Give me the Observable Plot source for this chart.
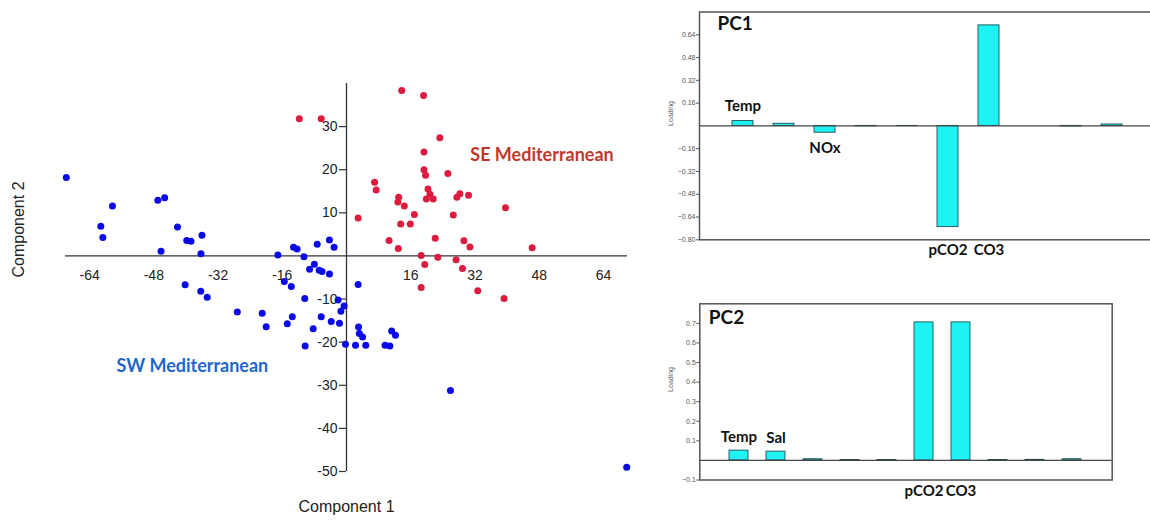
<!DOCTYPE html>
<html><head><meta charset="utf-8">
<script src="https://cdn.jsdelivr.net/npm/d3@7"></script>
<script src="https://cdn.jsdelivr.net/npm/@observablehq/plot@0.6"></script>
<style>
html,body{margin:0;padding:0;background:#fff}
body{width:1150px;height:522px;overflow:hidden;position:relative;font-family:"Liberation Sans",Arial,sans-serif}
.panel{position:absolute;overflow:hidden}
.panel svg{max-width:none !important;display:block}
</style></head><body>
<div id="scatter" class="panel" style="left:0;top:0;width:650px;height:522px"></div>
<div id="pc1" class="panel" style="left:660px;top:0;width:490px;height:290px"></div>
<div id="pc2" class="panel" style="left:660px;top:290px;width:490px;height:232px"></div>
<script>
// ---- Scatter: PCA scores ----
const swC1 = [-69.8,-58.3,-61.2,-60.7,-47,-45.3,-46.2,-42.1,-39.8,-38.75,-36,-36.25,-40.2,-36.3,-34.7,-27.2,-21,-20,-17.1,-15.5,-13.75,-13.2,-12.3,-10.6,-13.5,-14.75,-10.4,-10.3,-9.2,-8,-7.3,-6.8,-6.1,-8.3,-6.3,-4.25,-3.1,-4.25,-3.8,-2.1,-1.75,-1.4,-0.6,-0.25,2.9,3,3.2,4,2.25,4.8,9.6,10.8,11.25,12.2,25.9,69.8];
const swC2 = [18.2,11.6,6.9,4.3,12.9,13.5,1.1,6.7,3.6,3.4,4.8,0.5,-6.7,-8.2,-9.6,-13,-13.3,-16.4,0.2,-5.9,-7.1,2,1.6,-0.2,-14.1,-15.7,-9.9,-20.9,-3.1,-1.9,2.7,-3.3,-3.6,-16.9,-14.1,3.7,2,-4.2,-15.2,-10.2,-15.6,-12.8,-11.6,-20.5,-6.6,-16.5,-18,-18.8,-20.7,-20.7,-20.7,-20.9,-17.4,-18.4,-31.2,-49];
const seC1 = [-11.75,-6.3,13.75,19.2,23.25,19.3,19.3,19.7,25.25,7,7.4,20.3,20.8,19.9,21.6,13,12.8,14.4,27.5,28.25,30.4,39.6,2.9,16.9,26.6,13.5,15.9,10.6,22.1,29.25,12.9,30.75,46.25,18.6,22.75,19.5,27.3,28.9,18.6,32.7,39.25];
const seC2 = [31.8,31.8,38.4,37.2,27.4,24.1,20,18.7,19.1,17.1,15.3,15.5,14.3,13.2,13.2,13.6,12.5,11.6,13.6,14.4,14.1,11.2,8.8,9.6,9.5,7.4,7.4,3.6,4.1,3.5,1.7,2.1,1.9,0.1,-0.3,-2,-0.9,-2.9,-7.3,-8.1,-9.9];
const xTicks = [-64,-48,-32,-16,16,32,48,64];
const yTicks = [30,20,10,-10,-20,-30,-40,-50];
const groupLabels = [
  {name:"SE Mediterranean", c1:48.7, c2:23.4, color:"#c0392b"},
  {name:"SW Mediterranean", c1:-38.4, c2:-25.5, color:"#1f66cc"}
];

// ---- Loadings ----
const vars = ["Temp","Sal","NOx","v4","v5","pCO2","CO3","v8","v9","v10"];
const pc1 = [0.034,0.015,-0.048,-0.003,-0.002,-0.711,0.706,0.0,-0.004,0.01];
const pc2 = [0.05,0.045,0.006,0.002,0.002,0.705,0.705,0.002,0.003,0.006];
const pc1Ticks = [0.64,0.48,0.32,0.16,-0.16,-0.32,-0.48,-0.64,-0.80];
const pc2Ticks = [0.7,0.6,0.5,0.4,0.3,0.2,0.1,-0.1];
const pc1Above = ["Temp"], pc1Below = ["NOx"], pc1Under = ["pCO2","CO3"];
const pc2Above = ["Temp","Sal"], pc2Under = ["pCO2","CO3"];

const sw = swC1.map((c1,i)=>({c1, c2: swC2[i]}));
const se = seC1.map((c1,i)=>({c1, c2: seC2[i]}));

const scatter = Plot.plot({
  width: 650, height: 522,
  marginLeft: 65, marginRight: 23, marginTop: 83, marginBottom: 51,
  x: {domain: [-70, 70], axis: null},
  y: {domain: [-50, 40], axis: null},
  style: {fontFamily: "Liberation Sans, Arial, sans-serif", color: "#222", background: "#fff"},
  marks: [
    Plot.ruleY([0], {stroke: "#333", strokeWidth: 1.3}),
    Plot.ruleX([0], {stroke: "#333", strokeWidth: 1.3}),
    Plot.ruleY(yTicks, {y: d => d, x1: 0, x2: 0, insetLeft: -7, stroke: "#333", strokeWidth: 1.2}),
    Plot.text(xTicks, {x: d => d, y: 0, dy: 20, text: d => String(d), fontSize: 14, fill: "#222"}),
    Plot.text(yTicks, {x: 0, y: d => d, dx: -9, textAnchor: "end", text: d => String(d), fontSize: 14, fill: "#222"}),
    Plot.text(["Component 2"], {frameAnchor: "left", dx: -47, rotate: -90, fontSize: 16, fill: "#222"}),
    Plot.text(["Component 1"], {frameAnchor: "bottom", dy: 40, fontSize: 16, fill: "#222"}),
    Plot.dot(sw, {x: "c1", y: "c2", r: 3.5, fill: "#0a0ae8", stroke: "none"}),
    Plot.dot(se, {x: "c1", y: "c2", r: 3.5, fill: "#dc1c3e", stroke: "none"}),
    Plot.text(groupLabels, {x: "c1", y: "c2", text: "name", fill: d => d.color, fontSize: 18, fontWeight: "bold", fontFamily: "Lato, sans-serif"})
  ]
});
document.getElementById("scatter").appendChild(scatter);

function loadingChart(values, opts) {
  const data = vars.map((v,i)=>({v, val: values[i]}));
  const pick = names => data.filter(d => names.includes(d.v));
  return Plot.plot({
    width: opts.width, height: opts.height,
    marginLeft: opts.ml, marginRight: opts.mr, marginTop: opts.mt, marginBottom: opts.mb,
    x: {type: "band", domain: vars, range: opts.xRange, paddingInner: 0.5, paddingOuter: 0.5, axis: null},
    y: {domain: opts.yDomain, ticks: opts.ticks, tickFormat: opts.fmt, tickSize: 3, tickPadding: 1, label: null},
    style: {fontFamily: "Liberation Sans, Arial, sans-serif", fontSize: "7px", color: "#555", background: "#fff"},
    marks: [
      Plot.barY(data, {x: "v", y: "val", fill: "#1ef2f2", stroke: "#1d4f55", strokeWidth: 0.9}),
      Plot.ruleY([0], {stroke: "#444", strokeWidth: 1.3}),
      Plot.frame({stroke: "#555", strokeWidth: 1.5}),
      Plot.text(["Loading"], {frameAnchor: "left", dx: -29, rotate: -90, fontSize: 7, fill: "#666"}),
      Plot.text([opts.title], {frameAnchor: "top-left", dx: opts.titleDx, dy: opts.titleDy, lineAnchor: "top", textAnchor: "start", fontSize: 19, fontWeight: "bold", fontFamily: "Lato, sans-serif", fill: "#111"}),
      Plot.text(pick(opts.above), {x: "v", y: "val", dy: opts.aboveDy, text: "v", fontSize: 15, fontWeight: "bold", fontFamily: "Lato, sans-serif", fill: "#111"}),
      Plot.text(pick(opts.below), {x: "v", y: "val", dy: 15, text: "v", fontSize: 15, fontWeight: "bold", fontFamily: "Lato, sans-serif", fill: "#111"}),
      Plot.text(pick(opts.under), {x: "v", frameAnchor: "bottom", dy: opts.underDy, text: "v", fontSize: 15, fontWeight: "bold", fontFamily: "Lato, sans-serif", fill: "#111"})
    ]
  });
}

document.getElementById("pc1").appendChild(loadingChart(pc1, {
  width: 520, height: 290, ml: 39, mr: 5, mt: 11.5, mb: 50.7,
  xRange: [49.3, 484.8], yDomain: [-0.8, 0.8], ticks: pc1Ticks, fmt: d3.format(".2f"),
  title: "PC1", titleDx: 18, titleDy: 4, above: pc1Above, aboveDy: -15, below: pc1Below, under: pc1Under, underDy: 15
}));
document.getElementById("pc2").appendChild(loadingChart(pc2, {
  width: 490, height: 232, ml: 39.3, mr: 38.3, mt: 13.3, mb: 42.5,
  xRange: [48.1, 441.9], yDomain: [-0.1, 0.8], ticks: pc2Ticks, fmt: d3.format(".1f"),
  title: "PC2", titleDx: 9, titleDy: 7, above: pc2Above, aboveDy: -13, below: [], under: pc2Under, underDy: 15.5
}));
</script>
</body></html>
